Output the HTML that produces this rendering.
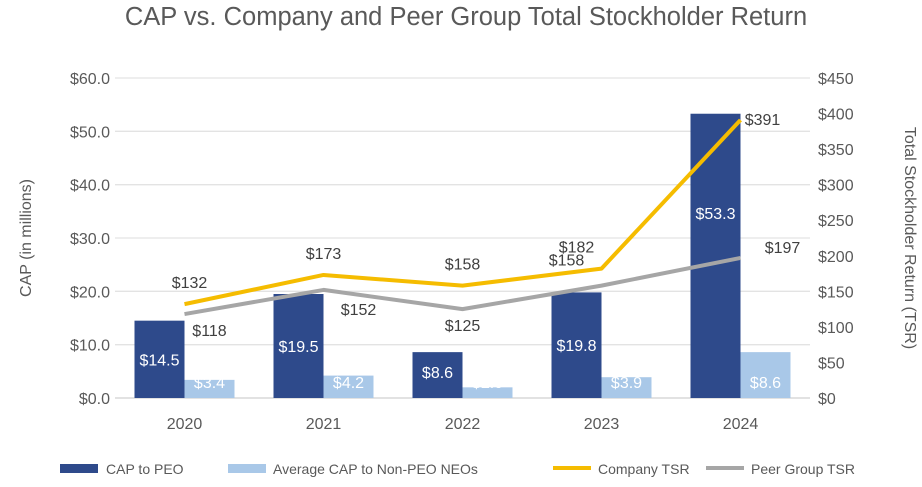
<!DOCTYPE html>
<html><head><meta charset="utf-8"><style>
body{margin:0;background:#fff;}
svg{font-family:"Liberation Sans",sans-serif;}
</style></head><body>
<svg width="922" height="482" viewBox="0 0 922 482">
<text x="466" y="25" text-anchor="middle" font-size="25.5" fill="#595959">CAP vs. Company and Peer Group Total Stockholder Return</text>
<g id="grid"></g><g id="bars"></g><g id="lines"></g><g id="labels"></g><g id="axes"></g>
<text transform="translate(31,238) rotate(-90)" text-anchor="middle" font-size="16" fill="#595959">CAP (in millions)</text>
<text transform="translate(905,238) rotate(90)" text-anchor="middle" font-size="16" fill="#595959">Total Stockholder Return (TSR)</text>
<g font-size="14" fill="#595959">
<rect x="60" y="464" width="38" height="9" fill="#2E4A8B"/>
<text x="106" y="474">CAP to PEO</text>
<rect x="228" y="464" width="38" height="9" fill="#A9C8E8"/>
<text x="273" y="474">Average CAP to Non-PEO NEOs</text>
<rect x="553" y="466" width="38" height="4" fill="#F5BC00"/>
<text x="598" y="474">Company TSR</text>
<rect x="706" y="466" width="38" height="4" fill="#A6A6A6"/>
<text x="751" y="474">Peer Group TSR</text>
</g>
</svg>
<script>
const years=["2020","2021","2022","2023","2024"];
const capPeo=[14.5,19.5,8.6,19.8,53.3];
const capNeo=[3.4,4.2,2.0,3.9,8.6];
const companyTsr=[132,173,158,182,391];
const peerTsr=[118,152,125,158,197];
const leftTicks=[0,10,20,30,40,50,60];
const rightTicks=[0,50,100,150,200,250,300,350,400,450];
const NS="http://www.w3.org/2000/svg";
const X0=115,X1=810,Y0=398,Y1=78;
const band=(X1-X0)/years.length;
const yL=v=>Y0-(v/60)*(Y0-Y1);
const yR=v=>Y0-(v/450)*(Y0-Y1);
const xC=i=>X0+band*(i+0.5);
function mk(tag,attrs,parent,text){const e=document.createElementNS(NS,tag);for(const k in attrs)e.setAttribute(k,attrs[k]);if(text!==undefined)e.textContent=text;document.getElementById(parent).appendChild(e);return e;}
leftTicks.forEach(t=>{
 const g=mk('line',{x1:X0,x2:X1,y1:yL(t),y2:yL(t),stroke:t===0?'#d0d0d0':'#e3e3e3','stroke-width':1.3},'grid');
 
 
 const l=mk('text',{x:110,y:yL(t)+6,'text-anchor':'end','font-size':16,fill:'#595959'},'axes','$'+t.toFixed(1));
 
 
});
rightTicks.forEach(t=>{
 const l=mk('text',{x:818,y:yR(t)+6,'font-size':16,fill:'#595959'},'axes','$'+t);
 
 
});
years.forEach((y,i)=>{
 const l=mk('text',{x:xC(i),y:429,'text-anchor':'middle','font-size':16,fill:'#595959'},'axes',y);
 
 
 const bw=50;
 const top=yL(capPeo[i]);
 const b=mk('rect',{x:xC(i)-bw,y:top,width:bw,height:Y0-top,fill:'#2E4A8B'},'bars');
 
 
 const t2=yL(capNeo[i]);
 const b2=mk('rect',{x:xC(i),y:t2,width:bw,height:Y0-t2,fill:'#A9C8E8'},'bars');
 
 
 let ly=Math.max(top+20,Math.min((top+Y0)/2,Y0-32))+6;
 if(Y0-top>200) ly=top+(Y0-top)*0.35+6;
 const a=mk('text',{x:xC(i)-bw/2,y:ly,'text-anchor':'middle','font-size':16,fill:'#fff'},'labels','$'+capPeo[i].toFixed(1));
 
 
 const c=mk('text',{x:xC(i)+bw/2,y:Y0-10,'text-anchor':'middle','font-size':16,fill:'#fff'},'labels','$'+capNeo[i].toFixed(1));
 
 
});
function line(vals,color,name){
 const p=vals.map((v,i)=>xC(i)+','+yR(v)).join(' ');
 const l=mk('polyline',{points:p,fill:'none',stroke:color,'stroke-width':4,'stroke-linejoin':'round'},'lines');
 
 
}
line(peerTsr,'#A6A6A6','peer-tsr-line');
line(companyTsr,'#F5BC00','company-tsr-line');
const cOff=[[5,-16],[0,-16],[0,-16],[-25,-16],[22,5]];
const pOff=[[25,22],[35,25],[0,22],[-35,-20],[42,-5]];
companyTsr.forEach((v,i)=>{
 const t=mk('text',{x:xC(i)+cOff[i][0],y:yR(v)+cOff[i][1],'text-anchor':'middle','font-size':16,fill:'#404040'},'labels','$'+v);
 
 
});
peerTsr.forEach((v,i)=>{
 const t=mk('text',{x:xC(i)+pOff[i][0],y:yR(v)+pOff[i][1],'text-anchor':'middle','font-size':16,fill:'#404040'},'labels','$'+v);
 
 
});
</script>
</body></html>
